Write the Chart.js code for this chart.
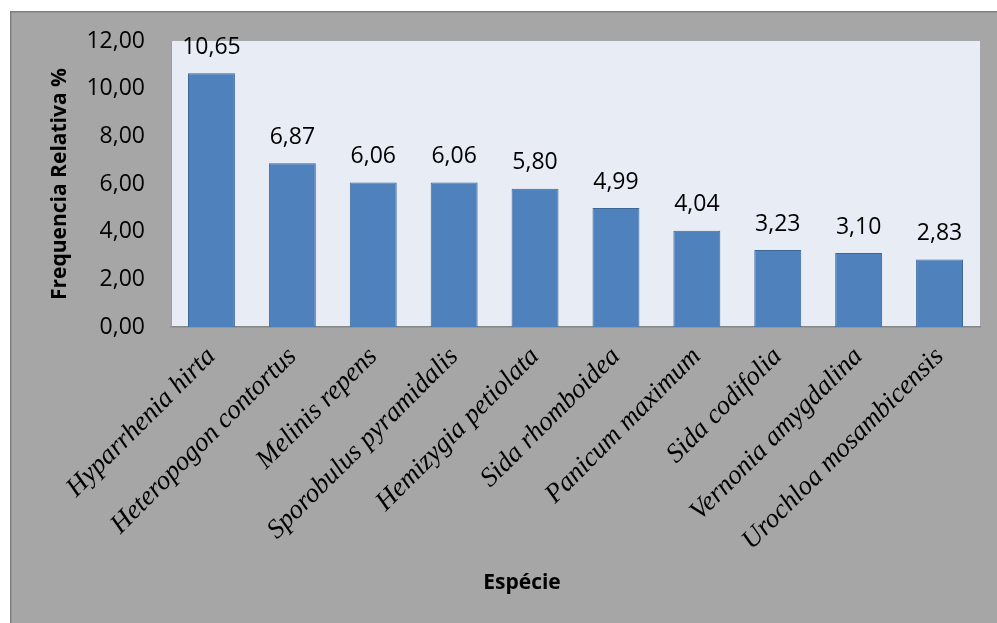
<!DOCTYPE html>
<html>
<head>
<meta charset="utf-8">
<script src="https://cdn.jsdelivr.net/npm/chart.js@4.4.1/dist/chart.umd.min.js"></script>
<style>
  html, body { margin: 0; padding: 0; background: #fff; }
  #c { display: block; }
</style>
</head>
<body>
<canvas id="c" width="997" height="623"></canvas>
<script>
const especies = [
  "Hyparrhenia hirta",
  "Heteropogon contortus",
  "Melinis repens",
  "Sporobulus pyramidalis",
  "Hemizygia petiolata",
  "Sida rhomboidea",
  "Panicum maximum",
  "Sida codifolia",
  "Vernonia amygdalina",
  "Urochloa mosambicensis",
];
const frequencia = [10.65, 6.87, 6.06, 6.06, 5.80, 4.99, 4.04, 3.23, 3.10, 2.83];
const yMin = 0;
const yMax = 12;
const yStep = 2;

const fmt = (v) => Number(v).toFixed(2).replace(".", ",");

// grey frame + plot background
const frame = {
  id: "frame",
  beforeDraw(chart) {
    const { ctx, chartArea: a } = chart;
    ctx.save();
    ctx.fillStyle = "#ffffff";
    ctx.fillRect(0, 0, chart.width, chart.height);
    ctx.fillStyle = "#a6a6a6";
    ctx.fillRect(10, 11, chart.width - 10, chart.height - 11);
    ctx.strokeStyle = "#808080";
    ctx.lineWidth = 1.5;
    ctx.beginPath();
    ctx.moveTo(10.75, chart.height);
    ctx.lineTo(10.75, 11.75);
    ctx.lineTo(chart.width, 11.75);
    ctx.stroke();
    ctx.fillStyle = "#e8ecf5";
    ctx.fillRect(a.left, a.top, a.right - a.left, a.bottom - a.top);
    ctx.restore();
  },
};

// value labels above bars + x title
const labels = {
  id: "labels",
  afterDatasetsDraw(chart) {
    const { ctx } = chart;
    const meta = chart.getDatasetMeta(0);
    ctx.save();
    ctx.fillStyle = "#000";
    ctx.font = "23px 'Open Sans'";
    ctx.textAlign = "center";
    ctx.textBaseline = "middle";
    meta.data.forEach((bar, i) => {
      ctx.fillText(fmt(frequencia[i]), bar.x, bar.y - 26);
    });
    ctx.font = "bold 21px 'Open Sans'";
    ctx.fillText("Espécie", 522, 583);
    ctx.restore();
  },
};

new Chart(document.getElementById("c"), {
  type: "bar",
  data: {
    labels: especies,
    datasets: [
      {
        data: frequencia,
        backgroundColor: "#4f81bd",
        borderColor: "#3d6896",
        borderWidth: 1,
        categoryPercentage: 1,
        barPercentage: 0.58,
      },
    ],
  },
  options: {
    responsive: false,
    animation: false,
    devicePixelRatio: 1,
    layout: { padding: { top: 41, left: 10, right: 17, bottom: 0 } },
    plugins: { legend: { display: false }, tooltip: { enabled: false } },
    scales: {
      x: {
        afterFit: (s) => { s.height = 296; },
        grid: { display: false, drawTicks: false },
        border: { display: true, color: "#868686", width: 1.5 },
        ticks: {
          color: "#000",
          font: { family: "'Liberation Serif', 'Times New Roman', serif", style: "italic", size: 27 },
          minRotation: 45,
          maxRotation: 45,
          padding: 14,
          autoSkip: false,
        },
      },
      y: {
        min: yMin,
        max: yMax,
        afterFit: (s) => { s.width = 161; },
        grid: { display: false, drawTicks: false },
        border: { display: true, color: "#9c9c9c", width: 1 },
        ticks: {
          stepSize: yStep,
          color: "#000",
          font: { family: "'Open Sans'", size: 23 },
          padding: 26,
          callback: (v) => fmt(v),
        },
        title: {
          display: true,
          text: "Frequencia Relativa %",
          color: "#000",
          font: { family: "'Open Sans'", weight: "bold", size: 21 },
          padding: { top: 37, bottom: 0 },
        },
      },
    },
  },
  plugins: [frame, labels],
});
</script>
</body>
</html>
